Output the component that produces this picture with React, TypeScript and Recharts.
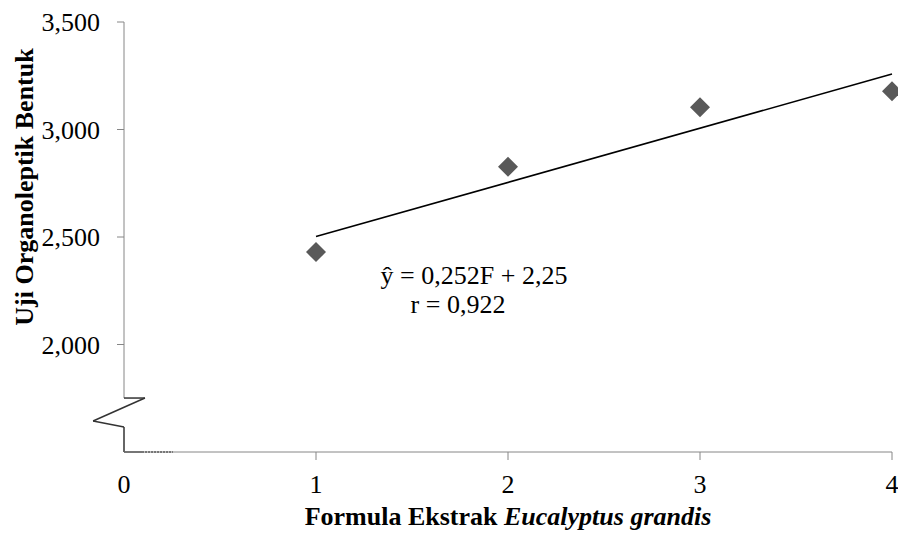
import React from "react";
import {
  ScatterChart,
  Scatter,
  XAxis,
  YAxis,
  ReferenceLine,
} from "recharts";

// Formula level (F) and organoleptic "bentuk" score
const formulaLevels = [1, 2, 3, 4];
const bentukScores = [2.43, 2.827, 3.103, 3.178];

// linear trend ŷ = 0,252F + 2,25 (end points)
const trendX = [1, 4];
const trendY = [2.502, 3.258];

const xTicks = [0, 1, 2, 3, 4];
const yTicks = [2, 2.5, 3, 3.5];

const FONT = '"Liberation Serif", "Times New Roman", serif';
const AXIS_GREY = "#868686";

const points = formulaLevels.map((f, i) => ({ f, v: bentukScores[i] }));
const trend = trendX.map((f, i) => ({ f, v: trendY[i] }));

// axis break (zigzag) at the bottom of the y axis, in data units
const breakPath = [
  { x: 0, y: 1.751 },
  { x: 0.109, y: 1.751 },
  { x: -0.161, y: 1.644 },
  { x: 0, y: 1.616 },
  { x: 0, y: 1.5 },
  { x: 0.094, y: 1.5 },
];

const fmt = (v: number) => v.toFixed(3).replace(".", ",");

const Diamond = (props: any) => {
  const { cx, cy } = props;
  const r = 10;
  return (
    <polygon
      points={`${cx},${cy - r} ${cx + r},${cy} ${cx},${cy + r} ${cx - r},${cy}`}
      fill="#595959"
    />
  );
};

const XTick = (props: any) => {
  const { x, y, payload } = props;
  return (
    <g>
      {payload.value !== 0 && (
        <line x1={x} x2={x} y1={y} y2={y + 8} stroke={AXIS_GREY} />
      )}
      <text x={x} y={y + 41} textAnchor="middle" fontSize={26} fontFamily={FONT} fill="#000">
        {payload.value}
      </text>
    </g>
  );
};

export default function App() {
  return (
    <div style={{ position: "relative", width: 898, height: 535, background: "#fff" }}>
      <style>{`body{margin:0}`}</style>
      <ScatterChart
        width={898}
        height={535}
        margin={{ top: 22, right: 6, bottom: 0, left: 0 }}
      >
        <XAxis
          type="number"
          dataKey="f"
          domain={[0, 4]}
          ticks={xTicks}
          axisLine={{ stroke: AXIS_GREY }}
          tickLine={false}
          tickSize={0}
          tickMargin={0}
          height={83}
          tick={<XTick />}
        />
        <YAxis
          type="number"
          dataKey="v"
          domain={[1.5, 3.5]}
          ticks={yTicks}
          width={124}
          axisLine={false}
          tickLine={{ stroke: AXIS_GREY }}
          tickSize={7}
          tickMargin={17}
          tickFormatter={fmt}
          tick={{ fontSize: 26, fontFamily: FONT, fill: "#000" }}
        />
        {/* y axis line above the break */}
        <ReferenceLine
          segment={[{ x: 0, y: 1.751 }, { x: 0, y: 3.5 }]}
          stroke={AXIS_GREY}
          ifOverflow="visible"
        />
        {breakPath.slice(1).map((p, i) => (
          <ReferenceLine
            key={i}
            segment={[breakPath[i], p]}
            stroke="#333"
            strokeWidth={1.5}
            ifOverflow="visible"
          />
        ))}
        <ReferenceLine
          segment={[{ x: 0.094, y: 1.5 }, { x: 0.255, y: 1.5 }]}
          stroke="#333"
          strokeWidth={1.5}
          strokeDasharray="2 1"
          ifOverflow="visible"
        />
        <Scatter
          data={trend}
          line={{ stroke: "#000", strokeWidth: 1.6 }}
          shape={() => <g />}
          isAnimationActive={false}
        />
        <Scatter data={points} shape={<Diamond />} isAnimationActive={false} />
      </ScatterChart>

      <div
        style={{
          position: "absolute",
          left: 0,
          top: 0,
          width: 50,
          height: 374,
          display: "flex",
          alignItems: "center",
          justifyContent: "center",
        }}
      >
        <div
          style={{
            transform: "rotate(-90deg)",
            whiteSpace: "nowrap",
            fontFamily: FONT,
            fontWeight: "bold",
            fontSize: 26,
          }}
        >
          Uji Organoleptik Bentuk
        </div>
      </div>

      <div
        style={{
          position: "absolute",
          left: 124,
          width: 768,
          top: 500,
          textAlign: "center",
          fontFamily: FONT,
          fontWeight: "bold",
          fontSize: 26,
          lineHeight: "34px",
          whiteSpace: "nowrap",
        }}
      >
        Formula Ekstrak <i>Eucalyptus grandis</i>
      </div>

      <div
        style={{
          position: "absolute",
          left: 374,
          width: 200,
          top: 261,
          textAlign: "center",
          fontFamily: FONT,
          fontSize: 26,
          lineHeight: "29px",
          whiteSpace: "nowrap",
        }}
      >
        <div>ŷ = 0,252F + 2,25</div>
        <div style={{ marginLeft: -32 }}>r = 0,922</div>
      </div>
    </div>
  );
}
